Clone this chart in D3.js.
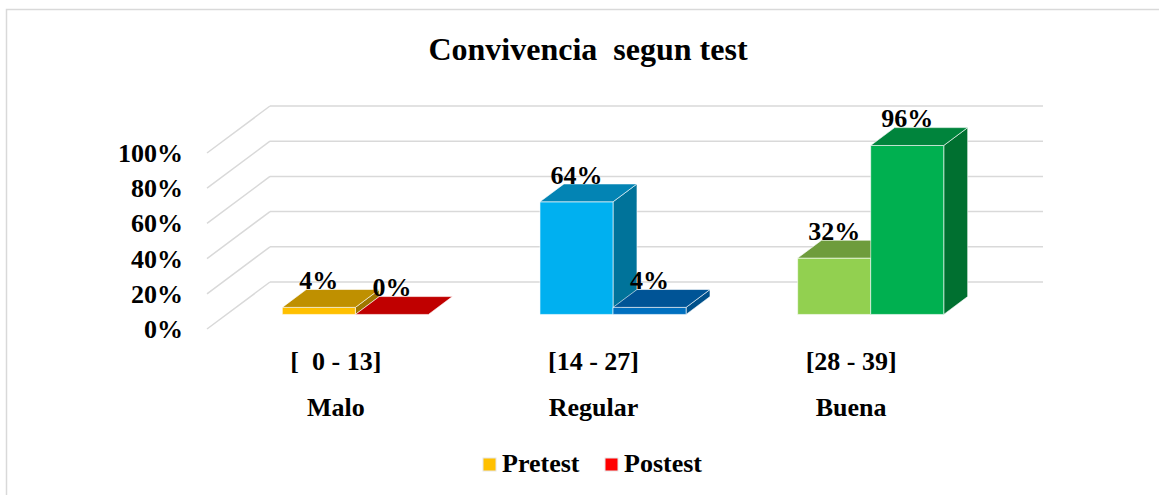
<!DOCTYPE html>
<html>
<head>
<meta charset="utf-8">
<script src="https://cdn.jsdelivr.net/npm/d3@7"></script>
<style>
  html, body { margin: 0; padding: 0; background: #fff; }
  text { font-family: "Liberation Serif", "Times New Roman", serif; font-weight: bold; white-space: pre; }
</style>
</head>
<body>
<div id="contents"></div>
<script>
var categories = ['Malo', 'Regular', 'Buena'];
var ranges     = ['[  0 - 13]', '[14 - 27]', '[28 - 39]'];
var series     = ['Pretest', 'Postest'];
var pretest    = [0.04, 0.64, 0.32];
var postest    = [0.00, 0.04, 0.96];
var ticks      = [0, 0.2, 0.4, 0.6, 0.8, 1];
var tickLabels = ['0%', '20%', '40%', '60%', '80%', '100%'];

// face colours per category: [front, top, side]
var pretestColors = [
    ['#FFC000', '#BF9000', '#9E7700'],
    ['#00B0F0', '#0384B4', '#00739A'],
    ['#92D050', '#6E9C3C', '#5C8432']
];
var postestColors = [
    ['#C00000', '#C00000', '#900000'],
    ['#0070C0', '#005496', '#00508A'],
    ['#00B050', '#00843C', '#007030']
];
var legendColors = ['#FFC000', '#FF0000'];

window.onload = function(){
    'use strict';
    var WIDTH  = 1159;
    var HEIGHT = 495;
    var DX     = 63;   // depth offset of the walls
    var DY     = -47;
    var Z0     = 0.31; // bar front depth
    var Z1     = 0.69; // bar back depth

    var svg = d3.select('#contents')
        .append('svg')
        .attr('width', WIDTH)
        .attr('height', HEIGHT);

    // chart frame
    svg.append('rect')
        .attr('x', 6.5).attr('y', 9.5)
        .attr('width', 1300).attr('height', 600)
        .attr('fill', 'none')
        .attr('stroke', '#d9d9d9')
        .attr('stroke-width', 1.5);

    var x = d3.scaleBand()
        .domain(categories)
        .range([207, 980])
        .paddingInner(0.433)
        .paddingOuter(0.2165);

    var xs = d3.scaleBand()
        .domain(series)
        .range([0, x.bandwidth()]);

    var y = d3.scaleLinear()
        .domain([0, 1])
        .range([329, 153]);

    function P(px, v, z) {
        return [px + z * DX, y(v) + z * DY];
    }

    function poly(pts) {
        return 'M' + pts.map(function(p){ return p[0] + ',' + p[1]; }).join('L') + 'Z';
    }

    // title
    svg.append('text')
        .attr('x', 588)
        .attr('y', 60)
        .attr('text-anchor', 'middle')
        .attr('font-size', 32)
        .attr('fill', '#000')
        .text('Convivencia  segun test');

    // gridlines: side wall diagonal + back wall
    var grid = svg.append('g');
    grid.selectAll('.side')
        .data(ticks)
        .enter()
        .append('line')
        .attr('x1', function(d){ return P(207, d, 0)[0]; })
        .attr('y1', function(d){ return P(207, d, 0)[1]; })
        .attr('x2', function(d){ return P(207, d, 1)[0]; })
        .attr('y2', function(d){ return P(207, d, 1)[1]; })
        .attr('stroke', '#d9d9d9')
        .attr('stroke-width', 1.5);
    grid.selectAll('.back')
        .data(ticks)
        .enter()
        .append('line')
        .attr('x1', function(d){ return P(207, d, 1)[0]; })
        .attr('y1', function(d){ return P(207, d, 1)[1]; })
        .attr('x2', function(d){ return P(980, d, 1)[0]; })
        .attr('y2', function(d){ return P(980, d, 1)[1]; })
        .attr('stroke', '#d9d9d9')
        .attr('stroke-width', 1.5);

    // y tick labels
    svg.append('g')
        .selectAll('text')
        .data(ticks)
        .enter()
        .append('text')
        .attr('x', 183)
        .attr('y', function(d){ return y(d) + 9; })
        .attr('text-anchor', 'end')
        .attr('font-size', 26)
        .text(function(d, i){ return tickLabels[i]; });

    // bars
    var bars = [];
    categories.forEach(function(c, i){
        bars.push({cat: c, s: series[0], v: pretest[i], col: pretestColors[i]});
        bars.push({cat: c, s: series[1], v: postest[i], col: postestColors[i]});
    });

    var barG = svg.append('g');
    bars.forEach(function(b){
        var xl = x(b.cat) + xs(b.s);
        var xr = xl + xs.bandwidth();
        var g = barG.append('g')
            .attr('stroke', '#ffffff')
            .attr('stroke-opacity', 0.6)
            .attr('stroke-width', 1)
            .attr('stroke-linejoin', 'round');
        if (b.v > 0) {
            g.append('path')
                .attr('d', poly([P(xr, 0, Z0), P(xr, 0, Z1), P(xr, b.v, Z1), P(xr, b.v, Z0)]))
                .attr('fill', b.col[2]);
            g.append('path')
                .attr('d', poly([P(xl, 0, Z0), P(xr, 0, Z0), P(xr, b.v, Z0), P(xl, b.v, Z0)]))
                .attr('fill', b.col[0]);
        }
        g.append('path')
            .attr('d', poly([P(xl, b.v, Z0), P(xr, b.v, Z0), P(xr, b.v, Z1), P(xl, b.v, Z1)]))
            .attr('fill', b.col[1]);
    });

    // value labels
    svg.append('g')
        .selectAll('text')
        .data(bars)
        .enter()
        .append('text')
        .attr('x', function(d){ return P(x(d.cat) + xs(d.s) + xs.bandwidth() / 2, d.v, Z0)[0]; })
        .attr('y', function(d){ return P(0, d.v, Z0)[1] - 18; })
        .attr('text-anchor', 'middle')
        .attr('font-size', 26)
        .text(function(d){ return Math.round(d.v * 100) + '%'; });

    // category labels (two rows)
    var cats = svg.append('g');
    cats.selectAll('.range')
        .data(categories)
        .enter()
        .append('text')
        .attr('x', function(d){ return x(d) + x.bandwidth() / 2; })
        .attr('y', 370)
        .attr('text-anchor', 'middle')
        .attr('font-size', 26)
        .text(function(d, i){ return ranges[i]; });
    cats.selectAll('.name')
        .data(categories)
        .enter()
        .append('text')
        .attr('x', function(d){ return x(d) + x.bandwidth() / 2; })
        .attr('y', 416)
        .attr('text-anchor', 'middle')
        .attr('font-size', 26)
        .text(function(d){ return d; });

    // legend
    var legendX = [483, 605];
    var legend = svg.append('g')
        .selectAll('g')
        .data(series)
        .enter()
        .append('g')
        .attr('transform', function(d, i){ return 'translate(' + legendX[i] + ',458)'; });
    legend.append('rect')
        .attr('width', 13)
        .attr('height', 13)
        .attr('fill', function(d, i){ return legendColors[i]; })
        .attr('stroke', '#e6e6e6')
        .attr('stroke-width', 1);
    legend.append('text')
        .attr('x', 19)
        .attr('y', 14)
        .attr('font-size', 26)
        .text(function(d){ return d; });
};
</script>
</body>
</html>
